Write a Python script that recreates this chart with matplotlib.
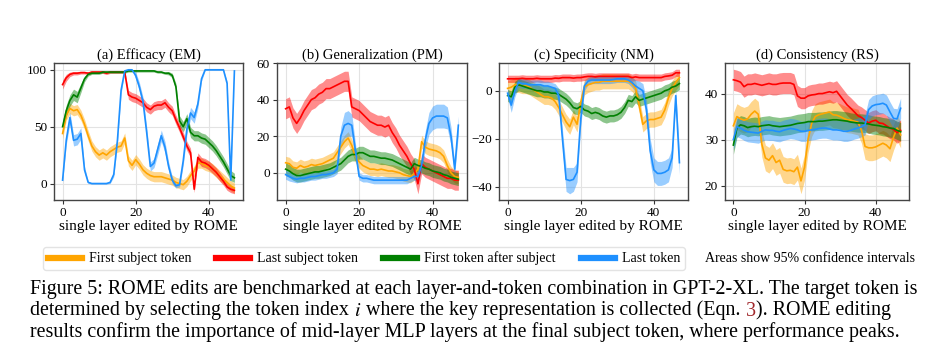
import matplotlib.pyplot as plt
import numpy as np
from matplotlib.lines import Line2D

layers = np.arange(48)

token_names = ["First subject token", "Last subject token",
               "First token after subject", "Last token"]
token_colors = ["orange", "red", "green", "dodgerblue"]

# (a) Efficacy (EM)
eff_first = [44, 60, 66, 64, 65, 60, 52, 42, 33, 28, 25, 27, 25, 28, 30, 32,
             33, 40, 20, 16, 21, 17, 12, 9, 7, 6, 6, 6, 5, 4, 3, 1,
             0, -1, 2, 7, 11, 18, 18, 16, 15, 13, 10, 7, 4, 1, -2, -4]
eff_last_subj = [87, 93, 96, 97, 97, 97.5, 97.5, 97, 98, 98, 98, 98, 97, 98, 98, 98,
                 98, 98, 78, 76, 75, 73, 71, 67, 65, 68, 69, 69, 71, 67, 64, 56,
                 49, 41, 33, 27, -5, 23, 19, 18, 16, 13, 10, 6, 2, -3, -5, -6]
eff_after = [50, 64, 73, 78, 76, 84, 92, 96, 97, 97, 97, 98, 98, 98, 98, 98,
             98, 98, 99, 99, 99, 99, 99, 99, 99, 99, 98, 98, 97, 97, 95, 85,
             55, 50, 57, 45, 42, 42, 40, 39, 36, 33, 29, 24, 19, 13, 7, 5]
eff_last = [3, 38, 58, 38, 39, 44, 12, 1, 0, 0, 0, 0, 0, 1, 8, 38,
            82, 99, 100, 100, 95, 85, 72, 45, 15, 18, 30, 42, 32, 15, 3, -2,
            -1, 20, 48, 62, 58, 70, 92, 100, 100, 100, 100, 100, 100, 88, 3, 99]
# 95% CI half widths
eff_ci_last_subj = [4, 3, 2, 1.5, 1.5, 1.2, 1.2, 1.2, 1.2, 1.2, 1.2, 1.2, 1.2, 1.2, 1.2, 1.2,
                    1.2, 1.2, 4, 4, 4, 4, 4, 4, 4, 4, 4, 4, 4, 4, 4, 4,
                    4, 4, 4, 4, 3, 4, 4, 4, 4, 4, 4, 4, 3.5, 3, 3, 3]
eff_ci_after = [5, 5, 5, 5, 5, 4, 2.5, 1.5, 1, 1, 1, 1, 1, 1, 1, 1,
                1, 1, 1, 1, 1, 1, 1, 1, 1, 1, 1, 1, 1, 1.5, 2, 3,
                4.5, 4.5, 4.5, 4.5, 4.5, 4.5, 4.5, 4.5, 4.5, 4.5, 4.5, 4.5, 4.5, 4.5, 4.5, 4]
eff_ci_last = [2, 4, 5, 5, 5, 5, 3, 1, 0.5, 0.5, 0.5, 0.5, 0.5, 1, 2, 3,
               3, 1, 0.5, 0.5, 3, 4, 4, 5, 4, 4, 5, 5, 5, 4, 3, 2,
               2, 4, 5, 5, 5, 4, 2, 0.5, 0.5, 0.5, 0.5, 0.5, 0.5, 2, 2, 1]
eff_ci = [4.5, eff_ci_last_subj, eff_ci_after, eff_ci_last]

# (b) Generalization (PM)
gen_first = [5.5, 5, 3, 2.5, 4, 3, 3.5, 4.5, 4, 4.5, 5, 6, 7, 8, 11, 14,
             17, 19, 15, 9, 6, 4, 3, 2, 2, 1.5, 2, 1.5, 1, 1, 0.5, 0,
             -1, -1.5, -2, -0.5, 2, 17, 14, 13, 12.5, 12, 11, 9, 4, 0, -2, -2.5]
gen_last_subj = [35, 36, 30, 27, 30, 34, 37, 40, 41, 43, 44, 46, 46, 47, 48, 49,
                 50, 50, 36, 35, 34, 32, 30, 28, 27, 26, 26, 25, 26, 22, 19, 15,
                 12, 9, 5, 2, -6, 5, 3, 2, 1, 0, -1, -2, -3, -3, -4, -4]
gen_after = [2, 1, -0.5, -1.5, -1.5, -1, -0.5, 0, 0.5, 0.5, 1, 1.5, 2, 3, 4, 5,
             7, 9, 10, 10, 11, 11, 10, 9, 9, 8.5, 8, 8, 7.5, 7, 6, 5,
             4, 3, 2, 5, 4, 3.5, 2.5, 2, 1, 0.5, 0, -1, -1.5, -2.5, -3, -3.5]
gen_last = [-1, -2, -3, -3.5, -3, -3, -2.5, -2, -2, -1.5, -1, -1, -0.5, 0, 2, 20,
            26, 27, 26, 12, -2, -3, -3, -3.5, -4, -4, -4, -4, -4, -4, -4, -4,
            -4, -4, -3, -2, -2, 4, 18, 27, 30, 31, 31, 31, 30, 20, 2, 26]
gen_ci_last = [2.5, 2.5, 2, 2, 2, 2, 2, 2, 2, 2, 2, 2, 2, 2, 2.5, 5,
               7, 7, 6, 4, 2, 2, 2, 2, 2, 2, 2, 2, 2, 2, 2, 2,
               2, 2, 2, 2, 3, 3, 5, 6, 6.5, 6.5, 6.5, 6.5, 6, 5, 3, 5]
gen_ci = [3.5, 5.5, 3.5, gen_ci_last]

# (c) Specificity (NM)
spec_first = [1, 1.5, 2.5, 2.5, 2, 2, 1.5, 0.5, -0.5, -1.5, -2.5, -2.5, -3, -4.5, -7, -10,
              -13, -15, -11, -14, -5, 1.5, 2.5, 3, 3.5, 3.5, 4, 4, 4, 4, 4, 4,
              4, 4, 3, 1, -6, -14, -12.5, -12, -12, -11.5, -11, -8, -3, 1, 3.5, 5.5]
spec_last_subj = [5, 5, 5, 5, 5.2, 5, 5, 5, 5.2, 5, 5, 5, 5, 5.3, 5.2, 5.5,
                  5.5, 5.5, 5.3, 5.5, 5.5, 5.8, 6, 6, 5.8, 6, 6, 6, 6, 6, 6, 6,
                  6, 6, 5.5, 5.8, 5.5, 5.5, 5.5, 5.5, 5.5, 5.5, 5.5, 6, 6.2, 6.5, 7.5, 7.5]
spec_after = [-2, -2.5, 1.5, 2.5, 2, 1.5, 1, 0.5, 0, 0, -0.5, -0.5, -1, -1, -1.5, -2.5,
              -3.5, -5, -7, -7.5, -6.5, -8, -8.5, -9.5, -9, -9.5, -10.5, -11, -10.5, -10.5, -10, -9,
              -7, -4, -4.5, -2.5, -4, -3.5, -3, -2.5, -2, -1.5, -1, 0, 0.5, 1.5, 2, 3]
spec_last = [-1, -6, 0, 3.5, 3, 3, 2.5, 2.5, 2.5, 2.5, 2, 2, 1.5, 1, -2, -20,
             -37, -37.5, -37, -34, -12, 2, 4, 4.5, 4.5, 4.5, 4.5, 4.5, 4.5, 4.7, 5, 5,
             5, 4.5, 3.5, 2, 1, 0, -8, -25, -33, -34.5, -34.5, -34, -33, -28, -2, -30]
spec_ci_last = [2, 3, 2.5, 2, 2, 2, 2, 2, 2, 2, 2, 2, 2, 2, 3, 4,
                5, 5.5, 5, 4, 3, 2, 1.5, 1.5, 1.5, 1.5, 1.5, 1.5, 1.5, 1.5, 1.5, 1.5,
                1.5, 1.5, 2, 2.5, 3, 3, 4, 5, 5, 5, 5, 5, 5, 4, 2, 5]
spec_ci = [3.2, 1.5, 2.5, spec_ci_last]

# (d) Consistency (RS)
cons_first = [33, 35, 34.5, 34.2, 34.5, 35.5, 36.2, 35.5, 29, 26, 25.5, 26.5, 25, 25.5, 23.5, 23.2,
              23.3, 23, 24, 21, 24, 30, 33.5, 35, 35.4, 35.6, 35.8, 36, 35.4, 35.3, 35, 34.6,
              34.3, 34.2, 34, 33.8, 32, 28.5, 28.2, 28.2, 28.4, 28.8, 29.2, 28.8, 28, 30.5, 32.5, 31]
cons_last_subj = [43, 42.8, 42.5, 41.5, 42, 42, 42.2, 42, 41.8, 42, 42.2, 42, 42, 42.2, 42.3, 42.3,
                  42.3, 42, 39.5, 39, 39, 39.5, 39.7, 39.8, 40, 40, 40.2, 40.4, 40.2, 40.5, 39.5, 38.5,
                  37.5, 36.8, 36, 35.2, 34.8, 34.2, 33.6, 34, 34.2, 33.6, 33.5, 33, 32.5, 32.2, 31.5, 32]
cons_after = [28.8, 32.5, 33.2, 33, 32.6, 32.8, 32.9, 32.8, 33, 33.1, 33.2, 33, 32.9, 32.8, 32.9, 33,
              33.1, 33.3, 33.5, 33.6, 33.7, 33.9, 33.9, 33.9, 34, 34, 34.1, 34.2, 34.3, 34.3, 34.2, 34.1,
              34, 33.8, 33.7, 33.6, 33.6, 33.5, 33.4, 33.2, 33.1, 33, 32.8, 32.7, 32.5, 32.4, 32, 31.7]
cons_last = [30, 32.8, 32.5, 32, 31.7, 31.6, 31.5, 31.4, 31.8, 32.1, 32, 32, 31.8, 31.7, 32, 32.2,
             32.4, 32.3, 32.1, 31.8, 31.8, 32, 32.1, 32.2, 32.4, 32.5, 32.5, 32.3, 32.1, 32.1, 32, 31.8,
             31.8, 32, 32.3, 32.5, 32.8, 33.2, 36.5, 37.3, 37.6, 37.7, 37.9, 37.5, 36, 34.6, 34.5, 36.8]
cons_ci = [2.8, 2.3, 2, 2.2]

panels = [
    ("(a) Efficacy (EM)", [eff_first, eff_last_subj, eff_after, eff_last], eff_ci, [0, 50, 100]),
    ("(b) Generalization (PM)", [gen_first, gen_last_subj, gen_after, gen_last], gen_ci, [0, 20, 40, 60]),
    ("(c) Specificity (NM)", [spec_first, spec_last_subj, spec_after, spec_last], spec_ci, [-40, -20, 0]),
    ("(d) Consistency (RS)", [cons_first, cons_last_subj, cons_after, cons_last], cons_ci, [20, 30, 40]),
]

caption_1 = "Figure 5: ROME edits are benchmarked at each layer-and-token combination in GPT-2-XL. The target token is"
caption_2 = [("determined by selecting the token index ", 'black'), ("$i$", 'black'),
             (" where the key representation is collected (Eqn. ", 'black'), ("3", '#a0272b'),
             ("). ROME editing", 'black')]
caption_3 = "results confirm the importance of mid-layer MLP layers at the final subject token, where performance peaks."

plt.rcParams['font.family'] = ['Liberation Serif', 'DejaVu Serif']
plt.rcParams['mathtext.fontset'] = 'stix'

fig = plt.figure(figsize=(9.5, 3.62), dpi=100)
W, H = 950, 362
boxes = [(54, 243), (277, 467), (499, 688), (725, 909)]
top, bottom = 63, 200

for (title, series, ci, yt), (x0, x1) in zip(panels, boxes):
    ax = fig.add_axes([x0 / W, (H - bottom) / H, (x1 - x0) / W, (bottom - top) / H])
    for vals, col, hw in zip(series, token_colors, ci):
        v = np.array(vals, dtype=float)
        hw = np.asarray(hw, dtype=float)
        ax.fill_between(layers, v - hw, v + hw, color=col, alpha=0.45, lw=0)
        ax.plot(layers, v, color=col, lw=1.2)
    ax.set_title(title, fontsize=10.5, pad=3)
    ax.set_xlabel("single layer edited by ROME", fontsize=11, labelpad=1)
    ax.set_xticks([0, 20, 40])
    ax.set_yticks(yt)
    ax.tick_params(labelsize=9.5, length=3, width=0.8, color='#333333', pad=2)
    ax.grid(True, color='#e3e3e3', lw=0.8)
    ax.set_axisbelow(True)
    for s in ax.spines.values():
        s.set_color('#444444')
        s.set_linewidth(1.0)

handles = [Line2D([], [], color=c, lw=4.5) for c in token_colors]
fig.legend(handles, token_names, loc='center left', bbox_to_anchor=(43 / W, (H - 258.5) / H),
           ncol=4, fontsize=10, frameon=True, edgecolor='#dddddd', fancybox=True,
           handlelength=2.45, handletextpad=0.5, columnspacing=1.8, borderpad=0.35,
           borderaxespad=0)
fig.text(705 / W, (H - 258.5) / H, "Areas show 95% confidence intervals", fontsize=10,
         va='center', ha='left')

# caption, sized so the first line spans the same width as in the paper
renderer = fig.canvas.get_renderer()
t1 = fig.text(30 / W, (H - 294) / H, caption_1, fontsize=12, va='baseline', ha='left')
cap_fs = 12 * 885 / t1.get_window_extent(renderer).width
t1.set_fontsize(cap_fs)

xpos = 30
for txt, col in caption_2:
    t = fig.text(xpos / W, (H - 315.5) / H, txt, fontsize=cap_fs, color=col,
                 va='baseline', ha='left')
    xpos = t.get_window_extent(renderer).x1
fig.text(30 / W, (H - 337) / H, caption_3, fontsize=cap_fs, va='baseline', ha='left')

fig.savefig("out.png", dpi=100)
